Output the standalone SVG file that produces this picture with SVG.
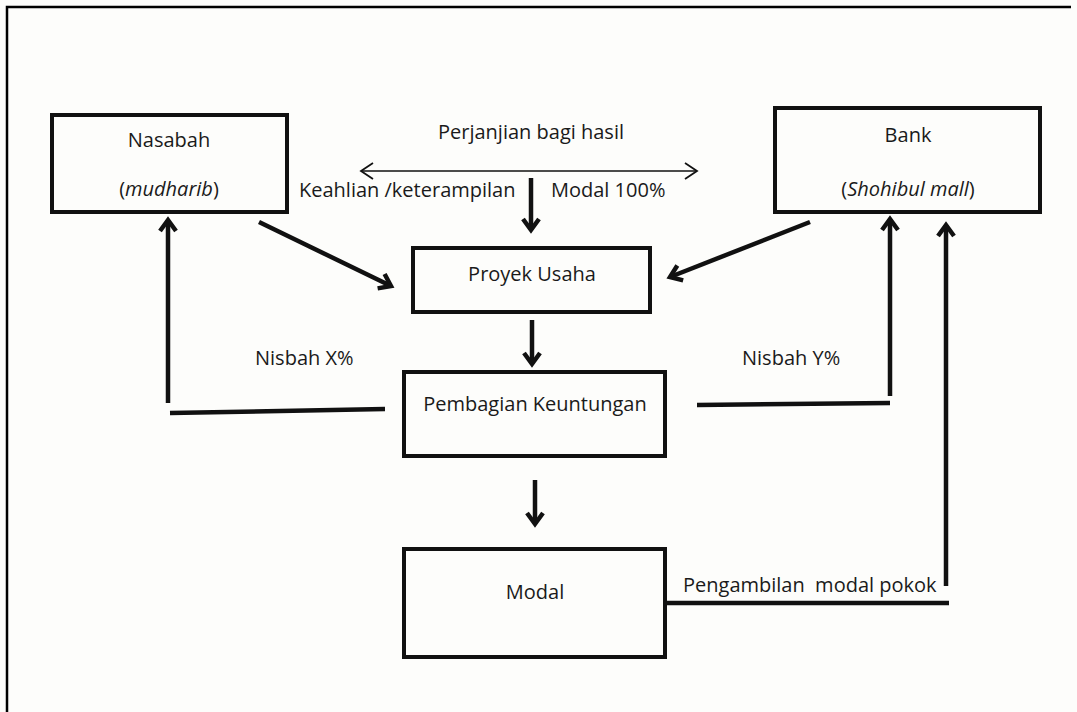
<svg xmlns="http://www.w3.org/2000/svg" width="1077" height="712" viewBox="0 0 1077 712">
<defs>
<style>
.box{fill:none;stroke:#111;stroke-width:4;stroke-linejoin:miter}
.t{font-family:"Open Sans","Liberation Sans",sans-serif;font-size:20px;fill:#1a1a1a}
.c{text-anchor:middle}
.ln{fill:none;stroke:#111;stroke-width:4.5;stroke-linecap:butt}
.thin{fill:none;stroke:#111;stroke-width:1.6}
</style>
<marker id="ah" viewBox="-16 -12 20 24" refX="0" refY="0" markerWidth="20" markerHeight="24" markerUnits="userSpaceOnUse" orient="auto">
<path d="M-11,-8 L0,0 L-11,8" fill="none" stroke="#111" stroke-width="4.5" stroke-linejoin="miter"/>
</marker>
<marker id="at" viewBox="-14 -10 16 20" refX="0" refY="0" markerWidth="16" markerHeight="20" markerUnits="userSpaceOnUse" orient="auto-start-reverse">
<path d="M-12,-8 L0,0 L-12,8" fill="none" stroke="#111" stroke-width="1.8"/>
</marker>
</defs>
<rect width="1077" height="712" fill="#fdfdfb"/>
<path d="M7,712 L7,7 L1071,7" fill="none" stroke="#000" stroke-width="2.5"/>

<g id="nasabah">
<rect class="box" x="52" y="115" width="235" height="97"/>
<text class="t c" x="169" y="147">Nasabah</text>
<text class="t c" x="169" y="196">(<tspan font-style="italic">mudharib</tspan>)</text>
</g>
<g id="bank">
<rect class="box" x="775" y="108" width="265" height="104"/>
<text class="t c" x="908" y="142">Bank</text>
<text class="t c" x="908" y="196">(<tspan font-style="italic">Shohibul mall</tspan>)</text>
</g>
<g id="proyek">
<rect class="box" x="413" y="248" width="237" height="64"/>
<text class="t c" x="532" y="281">Proyek Usaha</text>
</g>
<g id="pembagian">
<rect class="box" x="404" y="372" width="261" height="84"/>
<text class="t c" x="535" y="411">Pembagian Keuntungan</text>
</g>
<g id="modal">
<rect class="box" x="404" y="549" width="261" height="108"/>
<text class="t c" x="535" y="599">Modal</text>
</g>

<g id="labels">
<text class="t c" x="531" y="139">Perjanjian bagi hasil</text>
<text class="t" x="299" y="197">Keahlian /keterampilan</text>
<text class="t" x="551" y="197">Modal 100%</text>
<text class="t" x="255" y="365">Nisbah X%</text>
<text class="t" x="742" y="365">Nisbah Y%</text>
<text class="t" x="683" y="592" xml:space="preserve">Pengambilan  modal pokok</text>
</g>

<g id="connectors">
<line class="thin" x1="361" y1="171" x2="697" y2="171" marker-start="url(#at)" marker-end="url(#at)"/>
<line class="ln" x1="531" y1="178" x2="531" y2="230" marker-end="url(#ah)"/>
<line class="ln" x1="259" y1="222" x2="391" y2="286" marker-end="url(#ah)"/>
<line class="ln" x1="810" y1="222" x2="670" y2="277" marker-end="url(#ah)"/>
<line class="ln" x1="532" y1="320" x2="532" y2="364" marker-end="url(#ah)"/>
<line class="ln" x1="535" y1="480" x2="535" y2="524" marker-end="url(#ah)"/>
<line class="ln" x1="385" y1="409" x2="170" y2="413"/>
<line class="ln" x1="168" y1="403" x2="168" y2="220" marker-end="url(#ah)"/>
<line class="ln" x1="697" y1="405" x2="890" y2="403"/>
<line class="ln" x1="890" y1="396" x2="890" y2="219" marker-end="url(#ah)"/>
<line class="ln" x1="664" y1="603" x2="949" y2="603"/>
<line class="ln" x1="946" y1="586" x2="946" y2="225" marker-end="url(#ah)"/>
</g>
</svg>
